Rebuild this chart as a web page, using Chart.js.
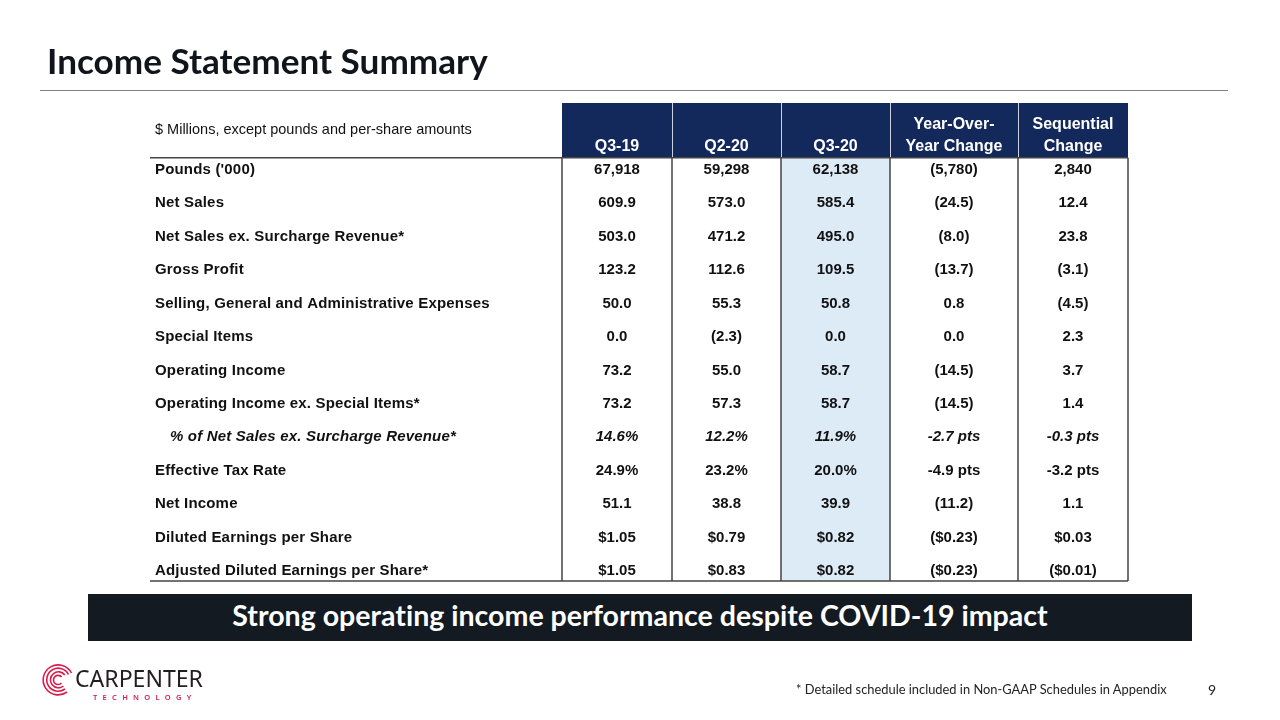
<!DOCTYPE html>
<html>
<head>
<meta charset="utf-8">
<script src="https://cdn.jsdelivr.net/npm/chart.js@4.4.1/dist/chart.umd.min.js"></script>
<style>
  body { margin: 0; width: 1280px; height: 720px; overflow: hidden; background: #fff; position: relative; font-variant-ligatures: none; font-feature-settings: "liga" 0, "clig" 0, "dlig" 0; }
  #wrap { position: absolute; left: 0; top: 0; width: 1280px; height: 720px; }
  .title { position: absolute; left: 47px; top: 39px; font: bold 32px Lato, sans-serif; color: #10151b; white-space: nowrap; }
  .rule { position: absolute; left: 40px; top: 90px; width: 1188px; height: 1px; background: #808080; }
  .banner { position: absolute; left: 88px; top: 594px; width: 1104px; height: 47px; background: #131a21; text-align: center; line-height: 47px; }
  .banner span { position: relative; top: 3px; color: #fff; font: bold 25px Lato, sans-serif; white-space: nowrap; font-feature-settings: "liga" 0, "clig" 0, "dlig" 0; }
  .note { position: absolute; left: 796px; top: 681px; font: 14px Lato, sans-serif; color: #222; white-space: nowrap; }
  .page { position: absolute; left: 1208px; top: 681px; font: 14px Lato, sans-serif; color: #222; }
  .logo { position: absolute; left: 40px; top: 662px; }
  .logo .name { position: absolute; left: 35px; top: 0px; font: 23px "Noto Sans", sans-serif; color: #231f20; white-space: nowrap; }
  .logo .tech { position: absolute; left: 53px; top: 30px; font: 600 7.5px "Noto Sans", sans-serif; color: #d5204f; letter-spacing: 5.3px; white-space: nowrap; }
</style>
</head>
<body>
<div id="wrap"><canvas id="graf"></canvas></div>
<div class="title" id="title">Income Statement Summary</div>
<div class="rule"></div>
<div class="banner"><span id="banner">Strong operating income performance despite COVID-19 impact</span></div>
<div class="logo">
  <svg width="36" height="36" viewBox="0 0 36 36">
    <g fill="none" stroke="#d91d4c" stroke-width="1.6">
      <path d="M27 30 A15 15 0 1 1 31.5 11"/>
      <path d="M25 27 A11.5 11.5 0 1 1 28.5 12.5"/>
      <path d="M23.5 24 A8 8 0 1 1 24.8 13"/>
      <path d="M21.5 21 A4.6 4.6 0 1 1 21.6 15"/>
    </g>
  </svg>
  <div class="name" id="logoname">CARPENTER</div>
  <div class="tech">TECHNOLOGY</div>
</div>
<div class="note" id="note">* Detailed schedule included in Non-GAAP Schedules in Appendix</div>
<div class="page">9</div>

<script>
// Rader och kolumner i tabellen
const rowLabels = ["Pounds ('000)", "Net Sales", "Net Sales ex. Surcharge Revenue*", "Gross Profit",
  "Selling, General and Administrative Expenses", "Special Items", "Operating Income",
  "Operating Income ex. Special Items*", "% of Net Sales ex. Surcharge Revenue*", "Effective Tax Rate",
  "Net Income", "Diluted Earnings per Share", "Adjusted Diluted Earnings per Share*"];
const columnLabels = [["Q3-19"], ["Q2-20"], ["Q3-20"], ["Year-Over-", "Year Change"], ["Sequential", "Change"]];
const unitsNote = "$ Millions, except pounds and per-share amounts";

const q319 = ["67,918", "609.9", "503.0", "123.2", "50.0", "0.0", "73.2", "73.2", "14.6%", "24.9%", "51.1", "$1.05", "$1.05"];
const q220 = ["59,298", "573.0", "471.2", "112.6", "55.3", "(2.3)", "55.0", "57.3", "12.2%", "23.2%", "38.8", "$0.79", "$0.83"];
const q320 = ["62,138", "585.4", "495.0", "109.5", "50.8", "0.0", "58.7", "58.7", "11.9%", "20.0%", "39.9", "$0.82", "$0.82"];
const yoyChange = ["(5,780)", "(24.5)", "(8.0)", "(13.7)", "0.8", "0.0", "(14.5)", "(14.5)", "-2.7 pts", "-4.9 pts", "(11.2)", "($0.23)", "($0.23)"];
const seqChange = ["2,840", "12.4", "23.8", "(3.1)", "(4.5)", "2.3", "3.7", "1.4", "-0.3 pts", "-3.2 pts", "1.1", "$0.03", "($0.01)"];

// Raden som är kursiv och indragen
const italicRow = 8;

// Kolumnkanter i x-skalans enheter
const edges = [0, 412, 522, 631, 740, 868, 978];
const columns = [q319, q220, q320, yoyChange, seqChange];

const navy = '#13295b';
const lineColor = '#444';
const Y_TOP = -2, Y_HEAD = -0.36, Y_BOT = 12.3;

const datasets = [{
  label: 'labels',
  data: rowLabels.map((t, i) => ({ x: i === italicRow ? 20 : 5, y: i })),
  texts: rowLabels,
  align: 'left',
  spacing: '0.18px',
  pointRadius: 0
}];
columns.forEach((col, c) => {
  datasets.push({
    label: columnLabels[c].join(' '),
    data: col.map((t, i) => ({ x: (edges[c + 1] + edges[c + 2]) / 2, y: i })),
    texts: col,
    align: 'center',
    spacing: '0px',
    pointRadius: 0
  });
});

const tablePlugin = {
  id: 'table',
  beforeDatasetsDraw(chart) {
    const { ctx, scales: { x, y } } = chart;
    const px = v => x.getPixelForValue(v);
    const py = v => y.getPixelForValue(v);
    ctx.save();
    // Rubrikfält
    ctx.fillStyle = navy;
    ctx.fillRect(px(edges[1]), py(Y_TOP), px(edges[6]) - px(edges[1]), py(Y_HEAD) - py(Y_TOP));
    // Markerad kolumn Q3-20
    ctx.fillStyle = '#ddebf7';
    ctx.fillRect(px(edges[3]), py(Y_HEAD), px(edges[4]) - px(edges[3]), py(Y_BOT) - py(Y_HEAD));
    // Ljusa avdelare i rubriken
    ctx.strokeStyle = '#c9d0de';
    ctx.lineWidth = 1;
    for (let c = 2; c < 6; c++) {
      ctx.beginPath();
      ctx.moveTo(Math.round(px(edges[c])) + 0.5, py(Y_TOP));
      ctx.lineTo(Math.round(px(edges[c])) + 0.5, py(Y_HEAD));
      ctx.stroke();
    }
    // Tabellinjer
    ctx.strokeStyle = lineColor;
    ctx.lineWidth = 1.5;
    ctx.beginPath();
    ctx.moveTo(px(edges[0]), py(Y_HEAD));
    ctx.lineTo(px(edges[6]), py(Y_HEAD));
    ctx.moveTo(px(edges[0]), py(Y_BOT));
    ctx.lineTo(px(edges[6]), py(Y_BOT));
    for (let c = 1; c < 7; c++) {
      ctx.moveTo(px(edges[c]), py(Y_HEAD));
      ctx.lineTo(px(edges[c]), py(Y_BOT));
    }
    ctx.stroke();
    // Rubriktexter
    ctx.fillStyle = '#fff';
    ctx.font = 'bold 16px "Liberation Sans", Arial, sans-serif';
    ctx.textAlign = 'center';
    ctx.textBaseline = 'middle';
    columnLabels.forEach((lines, c) => {
      const cx = px((edges[c + 1] + edges[c + 2]) / 2);
      lines.forEach((t, k) => {
        const yy = lines.length === 1 ? -0.69 : (k === 0 ? -1.35 : -0.69);
        ctx.fillText(t, cx, py(yy));
      });
    });
    ctx.fillStyle = '#111';
    ctx.font = '14.5px "Liberation Sans", Arial, sans-serif';
    ctx.textAlign = 'left';
    ctx.fillText(unitsNote, px(5), py(-1.2));
    ctx.restore();
  },
  afterDatasetsDraw(chart) {
    const { ctx } = chart;
    ctx.save();
    ctx.fillStyle = '#111';
    ctx.textBaseline = 'middle';
    chart.data.datasets.forEach((ds, d) => {
      const meta = chart.getDatasetMeta(d);
      ctx.textAlign = ds.align;
      ctx.letterSpacing = ds.spacing;
      meta.data.forEach((pt, i) => {
        const it = i === italicRow ? 'italic ' : '';
        ctx.font = it + 'bold 15px "Liberation Sans", Arial, sans-serif';
        ctx.fillText(ds.texts[i], pt.x, pt.y);
      });
    });
    ctx.restore();
  }
};

new Chart(document.querySelector('#graf'), {
  type: 'scatter',
  data: { datasets },
  options: {
    responsive: true,
    maintainAspectRatio: false,
    animation: false,
    layout: { padding: { left: 150, right: 152, top: 103, bottom: 139 } },
    plugins: { legend: { display: false }, tooltip: { enabled: false } },
    scales: {
      x: { type: 'linear', min: 0, max: 978, display: false },
      y: { type: 'linear', min: Y_TOP, max: Y_BOT, reverse: true, display: false }
    }
  },
  plugins: [tablePlugin]
});

// Anpassa textbredder till förlagan
function fit(id, w) {
  const el = document.getElementById(id);
  const fs = parseFloat(getComputedStyle(el).fontSize);
  const r = el.getBoundingClientRect();
  el.style.fontSize = (fs * w / r.width) + 'px';
}
fit('title', 441);
fit('note', 371);
fit('banner', 816);
fit('logoname', 128);
</script>
</body>
</html>
